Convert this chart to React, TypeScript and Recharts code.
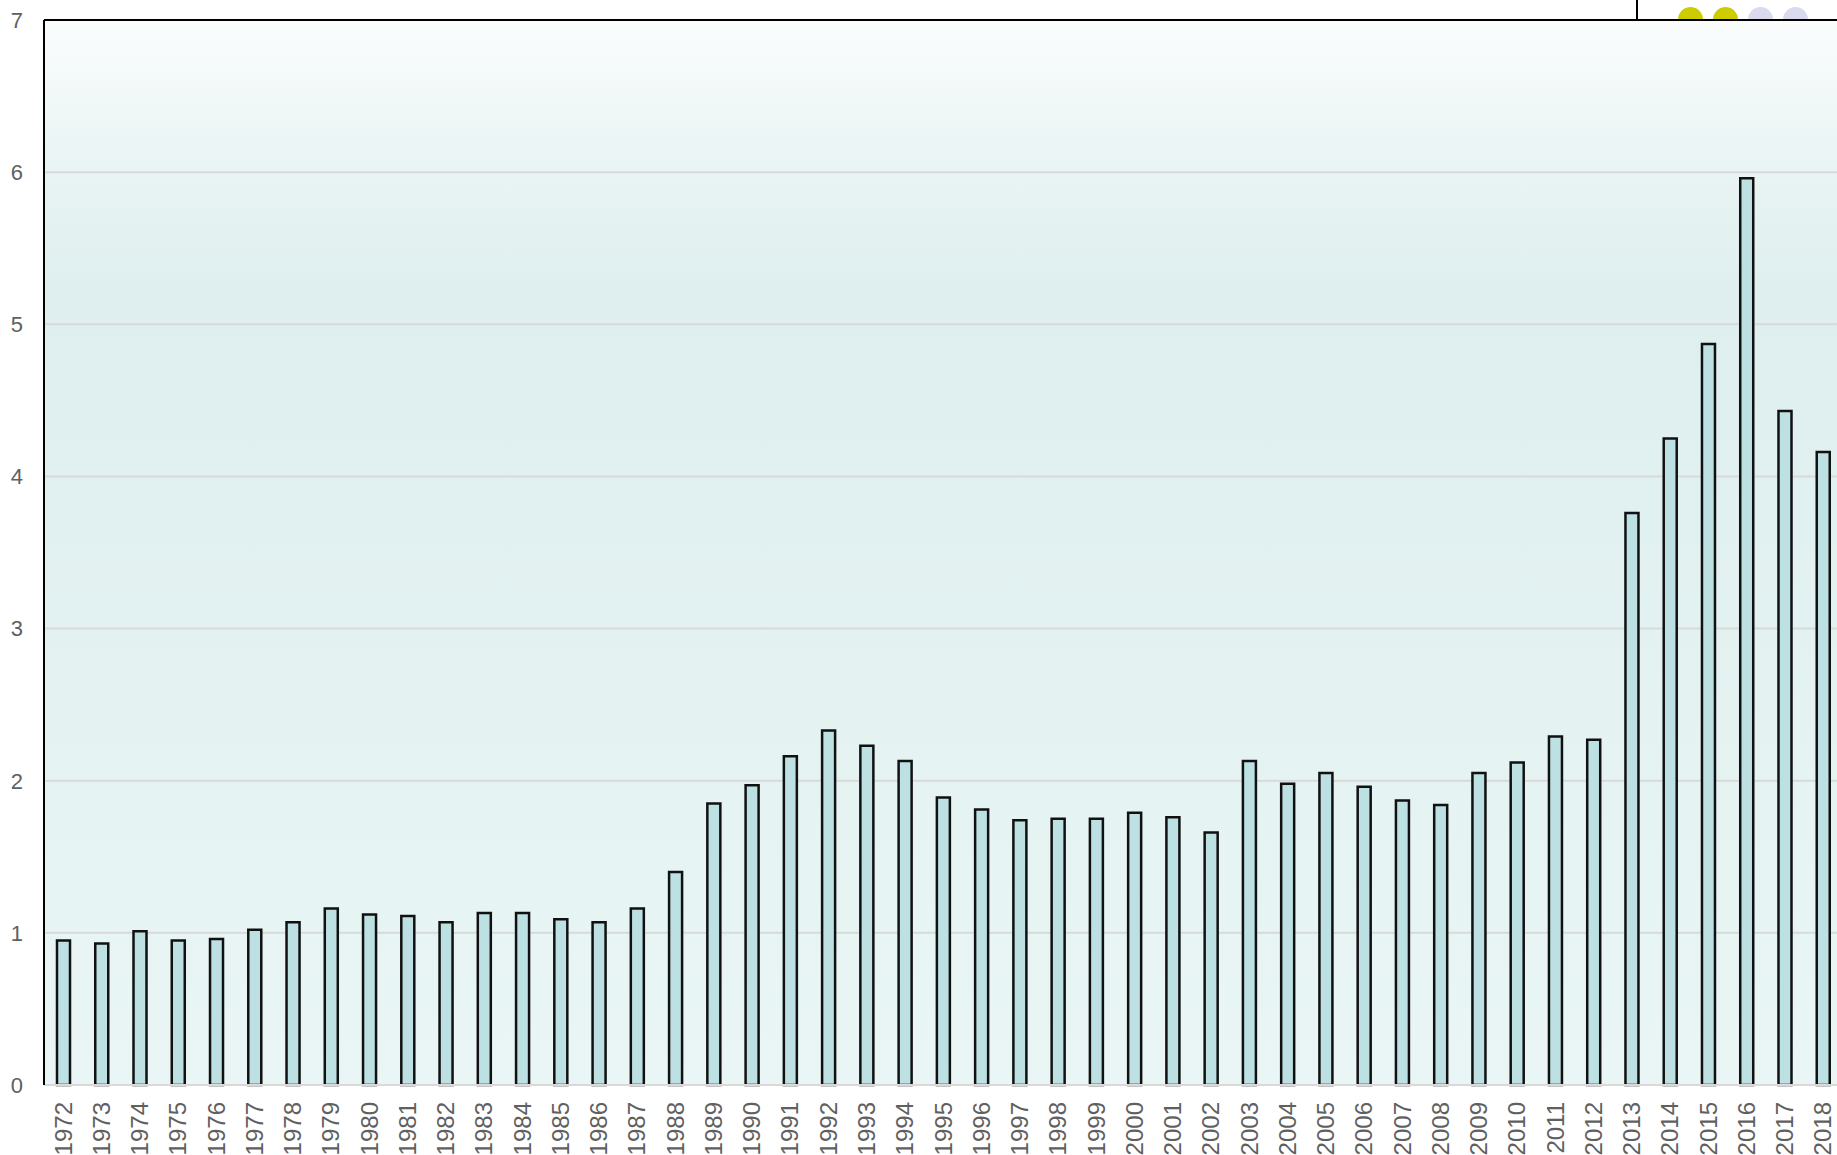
import { BarChart, Bar, XAxis, YAxis, CartesianGrid, ReferenceLine } from "recharts"

// years on the category axis
const years = [
  "1972", "1973", "1974", "1975", "1976", "1977", "1978", "1979", "1980", "1981",
  "1982", "1983", "1984", "1985", "1986", "1987", "1988", "1989", "1990", "1991",
  "1992", "1993", "1994", "1995", "1996", "1997", "1998", "1999", "2000", "2001",
  "2002", "2003", "2004", "2005", "2006", "2007", "2008", "2009", "2010", "2011",
  "2012", "2013", "2014", "2015", "2016", "2017", "2018",
]

// values
const values = [
  0.95, 0.93, 1.01, 0.95, 0.96, 1.02, 1.07, 1.16, 1.12, 1.11,
  1.07, 1.13, 1.13, 1.09, 1.07, 1.16, 1.40, 1.85, 1.97, 2.16,
  2.33, 2.23, 2.13, 1.89, 1.81, 1.74, 1.75, 1.75, 1.79, 1.76,
  1.66, 2.13, 1.98, 2.05, 1.96, 1.87, 1.84, 2.05, 2.12, 2.29,
  2.27, 3.76, 4.25, 4.87, 5.96, 4.43, 4.16,
]

const yTicks = [0, 1, 2, 3, 4, 5, 6, 7]

const data = years.map((year, i) => ({ year, value: values[i] }))

const font = "'Liberation Sans', Arial, sans-serif"

function YearTick({ x, y, payload }: any) {
  return (
    <text
      x={x}
      y={y}
      transform={`rotate(-90 ${x} ${y})`}
      textAnchor="end"
      dominantBaseline="central"
      fill="#606060"
      fontSize={24}
      fontFamily={font}
    >
      {payload.value}
    </text>
  )
}

export default function App() {
  return (
    <div style={{ position: "absolute", left: 0, top: 0, width: 1837, height: 1155, overflow: "hidden", background: "#fff" }}>
      {/* the box with the dots sits behind the plot */}
      <div style={{ position: "absolute", left: 1636, top: 0, width: 2, height: 20, background: "#000" }} />
      {["#cccc00", "#cccc00", "#dadaee", "#dadaee"].map((c, i) => (
        <div
          key={i}
          style={{
            position: "absolute",
            left: 1678 + i * 35,
            top: 7,
            width: 25,
            height: 25,
            borderRadius: "50%",
            background: c,
          }}
        />
      ))}
      <div style={{ position: "absolute", left: 0, top: 0 }}>
        <BarChart width={1842} height={1155} data={data} margin={{ top: 20, right: 0, bottom: 0, left: 0 }}>
          <defs>
            <linearGradient id="plotBg" x1="0" y1="0" x2="0" y2="1">
              <stop offset="0" stopColor="#fbfdfd" />
              <stop offset="0.12" stopColor="#ebf5f5" />
              <stop offset="0.25" stopColor="#dfefef" />
              <stop offset="0.45" stopColor="#e1f0f0" />
              <stop offset="1" stopColor="#eaf6f6" />
            </linearGradient>
          </defs>
          <CartesianGrid vertical={false} stroke="#d9d9d9" strokeWidth={2} fill="url(#plotBg)" fillOpacity={1} />
          <XAxis
            dataKey="year"
            interval={0}
            height={70}
            tickSize={0}
            tickMargin={17}
            tick={<YearTick />}
            axisLine={{ stroke: "#d9d9d9", strokeWidth: 2 }}
            tickLine={false}
          />
          <YAxis
            width={44}
            domain={[0, 7]}
            ticks={yTicks}
            interval={0}
            tickSize={0}
            tickMargin={21}
            tickLine={false}
            axisLine={{ stroke: "#000", strokeWidth: 2 }}
            tick={{ fill: "#606060", fontSize: 22, fontFamily: font }}
          />
          <ReferenceLine y={7} stroke="#000" strokeWidth={2} />
          <Bar dataKey="value" barSize={13} fill="#bde1e3" stroke="#111" strokeWidth={2.5} isAnimationActive={false} />
        </BarChart>
      </div>
    </div>
  )
}
